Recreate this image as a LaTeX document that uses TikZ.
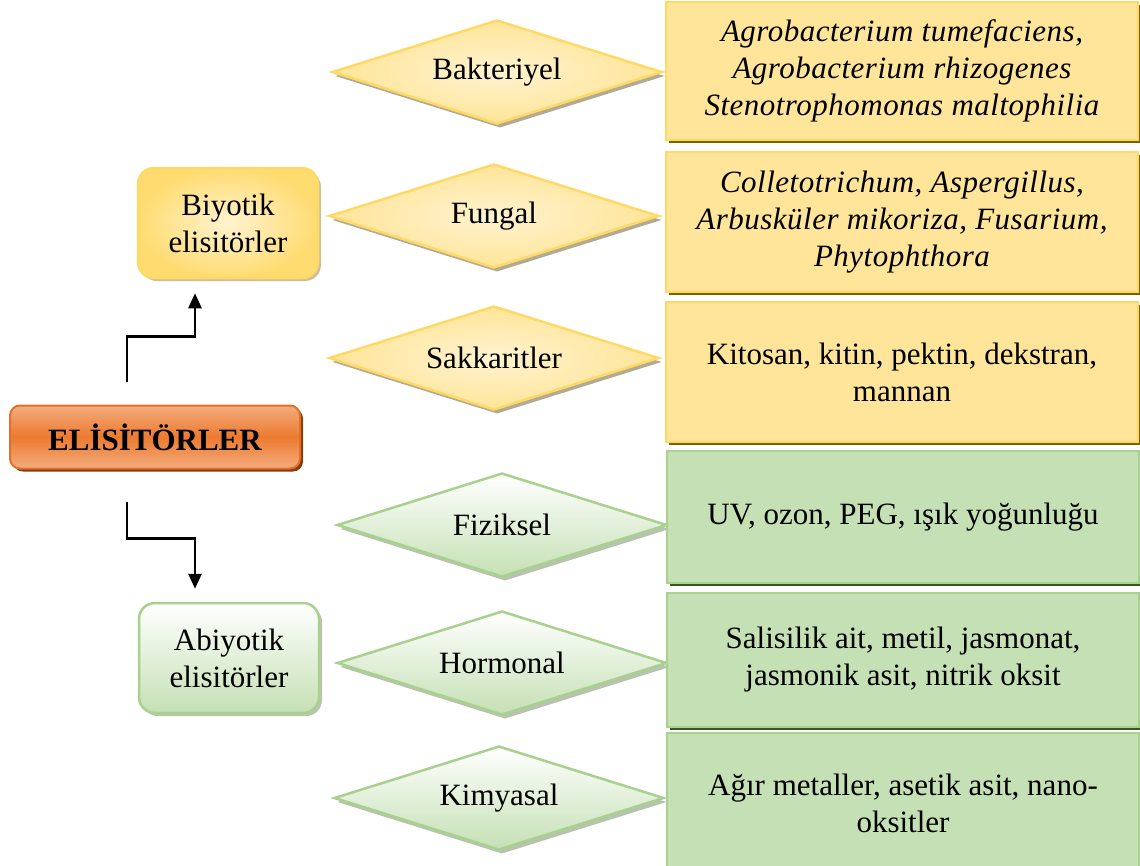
\documentclass[tikz,border=0pt]{standalone}
\usepackage{fontspec}
\setmainfont{Liberation Serif}
\usetikzlibrary{shapes.geometric,arrows.meta,shadows,calc}
\definecolor{ygold}{HTML}{FFD966}
\definecolor{yfill}{HTML}{FFE599}
\definecolor{ylight}{HTML}{FFF3D0}
\definecolor{yshadow}{HTML}{7F6000}
\definecolor{gborder}{HTML}{A9D18E}
\definecolor{gfill}{HTML}{C5E0B4}
\definecolor{gshadow}{HTML}{385723}
\definecolor{oborder}{HTML}{E0702A}
\definecolor{omid}{HTML}{EC7A2F}
\definecolor{olight}{HTML}{F4AC7E}
\definecolor{oshadow}{HTML}{843C0C}
\newcommand{\spit}{\itshape\addfontfeature{LetterSpace=1.6}}
\tikzset{
  txt/.style={font=\fontsize{31}{37}\selectfont, align=center, text=black},
  rbox/.style={txt, rectangle, line width=2.5pt, minimum width=472pt, inner sep=0pt},
  ybox/.style={rbox, draw=ygold, fill=yfill,
    drop shadow={shadow xshift=3pt, shadow yshift=-3pt, fill=yshadow, opacity=1}},
  gbox/.style={rbox, draw=gborder, fill=gfill,
    drop shadow={shadow xshift=3pt, shadow yshift=-3pt, fill=gshadow, opacity=1}},
  dia/.style={txt, diamond, shape aspect=3.2, inner sep=0pt, line width=2.5pt,
    minimum width=330pt, minimum height=104pt},
  ydia/.style={dia, draw=ygold, shading=radial, inner color=ylight, outer color=yfill,
    drop shadow={shadow xshift=3pt, shadow yshift=-4pt, fill=black!45!yshadow!60, opacity=0.7}},
  gdia/.style={dia, draw=gborder, top color=white, bottom color=gfill,
    drop shadow={shadow xshift=3pt, shadow yshift=-4pt, fill=gshadow!60, opacity=0.6}},
  cat/.style={txt, rectangle, rounded corners=16pt, line width=2.5pt,
    minimum width=180pt, minimum height=110pt, inner sep=0pt},
  arr/.style={line width=2.5pt, -{Triangle[length=15pt,width=13pt]}}
}
\begin{document}
\begin{tikzpicture}[x=1pt,y=-1pt]
\useasboundingbox (0,0) rectangle (1140,865);
% main node
\node[txt, rectangle, rounded corners=10pt, line width=2pt, draw=oborder,
  top color=olight, bottom color=olight, middle color=omid,
  minimum width=290pt, minimum height=63pt, inner sep=0pt,
  drop shadow={shadow xshift=3pt, shadow yshift=-3pt, fill=oshadow, opacity=1},
  font=\fontsize{31}{37}\selectfont\bfseries] (elis) at (155,437) {ELİSİTÖRLER};
% categories
\node[cat, draw=ygold, shading=radial, inner color=ylight, outer color=ygold!80!yfill,
  drop shadow={shadow xshift=3pt, shadow yshift=-3pt, fill=yshadow!50, opacity=0.8}]
  (bio) at (228,223) {Biyotik\\elisitörler};
\node[cat, draw=gborder, top color=white, bottom color=gfill,
  drop shadow={shadow xshift=3pt, shadow yshift=-3pt, fill=gshadow!50, opacity=0.7}]
  (abio) at (229,658) {Abiyotik\\elisitörler};
% diamonds
\node[ydia] (bak) at (497,72) {Bakteriyel};
\node[ydia] (fun) at (494,216) {Fungal};
\node[ydia] (sak) at (494,358) {Sakkaritler};
\node[gdia] (fiz) at (502,525) {Fiziksel};
\node[gdia] (hor) at (502,663) {Hormonal};
\node[gdia] (kim) at (499,798) {Kimyasal};
% right boxes
\node[ybox, minimum height=138pt] (b1) at (902,71)
  {\spit Agrobacterium tumefaciens,\\\spit Agrobacterium rhizogenes\\\spit Stenotrophomonas maltophilia};
\node[ybox, minimum height=140pt] (b2) at (902,222)
  {\spit Colletotrichum, Aspergillus,\\\spit Arbusküler mikoriza, Fusarium,\\\spit Phytophthora};
\node[ybox, minimum height=140pt] (b3) at (902,372)
  {Kitosan, kitin, pektin, dekstran,\\mannan};
\node[gbox, minimum height=132pt] (g1) at (903,517)
  {UV, ozon, PEG, ışık yoğunluğu};
\node[gbox, minimum height=134pt] (g2) at (903,660)
  {Salisilik ait, metil, jasmonat,\\jasmonik asit, nitrik oksit};
\node[gbox, minimum height=140pt] (g3) at (903,803)
  {Ağır metaller, asetik asit, nano-\\oksitler};
% connectors
\coordinate (s1) at ($(elis.north)+(-28,-23)$);
\coordinate (t1) at ($(bio.south)+(-33,14)$);
\coordinate (s2) at ($(elis.south)+(-28,32)$);
\coordinate (t2) at ($(abio.north)+(-34,-13)$);
\draw[arr] (s1) -- ++(0,-45) -| (t1);
\draw[arr] (s2) -- ++(0,37) -| (t2);
\end{tikzpicture}
\end{document}
